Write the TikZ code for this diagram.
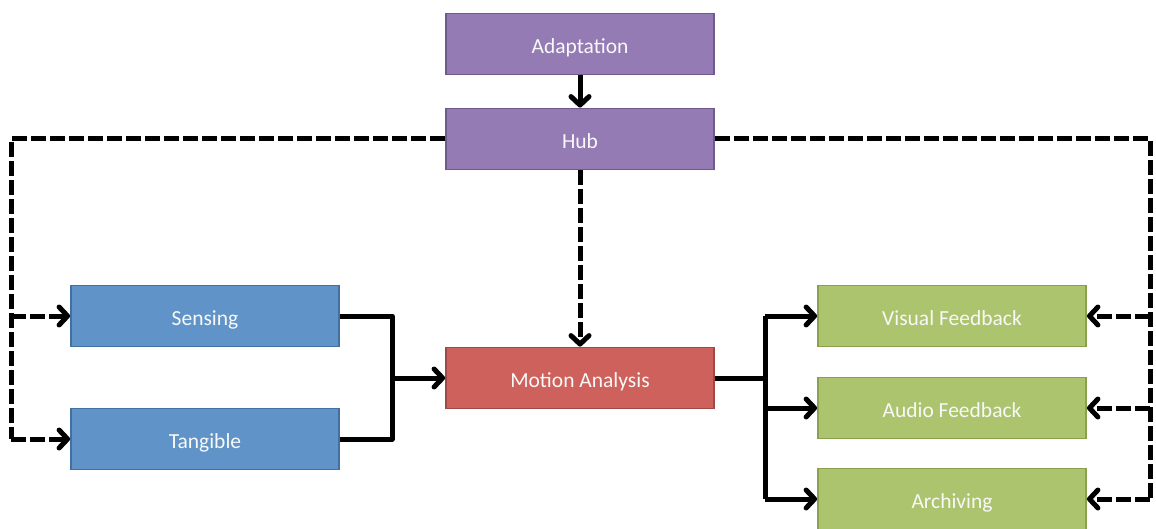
\documentclass[tikz,border=0pt]{standalone}
\usepackage{fontspec}
\setmainfont{Carlito}
\usetikzlibrary{arrows.meta}

\definecolor{purpfill}{RGB}{148,123,180}
\definecolor{purpedge}{RGB}{110,90,140}
\definecolor{bluefill}{RGB}{96,148,200}
\definecolor{blueedge}{RGB}{66,112,160}
\definecolor{redfill}{RGB}{206,97,91}
\definecolor{rededge}{RGB}{160,72,68}
\definecolor{greenfill}{RGB}{171,196,109}
\definecolor{greenedge}{RGB}{138,162,80}
\definecolor{labelwhite}{RGB}{248,248,248}

\tikzset{
  block/.style={draw, line width=1.8pt, minimum width=268pt, minimum height=61pt,
    inner sep=0pt, text height=19pt, text depth=0pt, text=labelwhite,
    font=\fontsize{21.5}{25}\selectfont},
  purpbox/.style={block, fill=purpfill, draw=purpedge},
  bluebox/.style={block, fill=bluefill, draw=blueedge},
  redbox/.style={block, fill=redfill, draw=rededge},
  greenbox/.style={block, fill=greenfill, draw=greenedge},
  link/.style={line width=5pt, line join=round, black},
  tip/.style={-{Straight Barb[length=8.5pt,width=18pt,line join=round,line cap=round]}},
  dline/.style={link, dash pattern=on 15pt off 4pt},
}

\begin{document}
\begin{tikzpicture}[x=1pt,y=-1pt]
\useasboundingbox (0,0) rectangle (1156,529);

% boxes
\node[purpbox] (adapt) at (580,44)  {Adaptation};
\node[purpbox] (hub)   at (580,139) {Hub};
\node[bluebox] (sense) at (205,316) {Sensing};
\node[bluebox] (tang)  at (205,439) {Tangible};
\node[redbox]  (mot)   at (580,378) {Motion Analysis};
\node[greenbox] (vis)  at (952,316) {Visual Feedback};
\node[greenbox] (aud)  at (952,408) {Audio Feedback};
\node[greenbox] (arch) at (952,499) {Archiving};

% routing points
\coordinate (lbot) at (11,439);
\coordinate (lmid) at (11,316);
\coordinate (rbot) at (1150,499);
\coordinate (rvis) at (1150,316);
\coordinate (raud) at (1150,408);
\coordinate (jin)  at (392,378);
\coordinate (jout) at (765,378);
\coordinate (jtop) at (765,316);
\coordinate (jbot) at (765,499);

% solid flow
\draw[link,tip] (adapt.south) -- (hub.north);
\draw[link] (sense.east) -| (jin) |- (tang.east);
\draw[link,tip] (jin) -- (mot.west);
\draw[link] (mot.east) -- (jout);
\draw[link] (jtop) -- (jbot);
\draw[link,tip] (jtop) -- (vis.west);
\draw[link,tip] (jout |- aud.west) -- (aud.west);
\draw[link,tip] (jbot) -- (arch.west);

% dashed control lines from the hub
\draw[dline,tip] (hub.south) -- (mot.north);
\draw[dline] (hub.west) -| (lbot);
\draw[dline,tip] (lbot) -- (tang.west);
\draw[dline,tip] (lmid) -- (sense.west);
\draw[dline] (hub.east) -| (rbot);
\draw[dline,tip] (rbot) -- (arch.east);
\draw[dline,tip] (rvis) -- (vis.east);
\draw[dline,tip] (raud) -- (aud.east);
\end{tikzpicture}
\end{document}
